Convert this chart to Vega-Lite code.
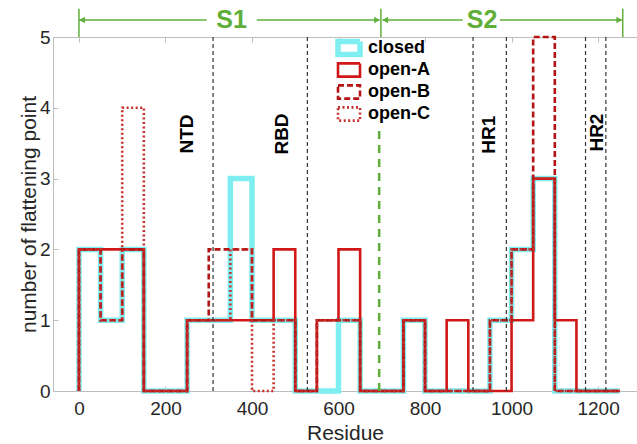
{
  "$schema": "https://vega.github.io/schema/vega-lite/v6.json",
  "width": 584,
  "height": 354,
  "autosize": {"type": "none"},
  "padding": {"left": 53, "top": 37, "right": 0, "bottom": 53},
  "background": "white",
  "config": {
    "view": {"stroke": null},
    "font": "Liberation Sans",
    "axis": {"grid": false, "domainColor": "#BDBDBD", "tickColor": "#BDBDBD", "labelColor": "#262626", "titleColor": "#262626", "labelFont": "Liberation Sans", "titleFont": "Liberation Sans", "labelFontSize": 19, "titleFontSize": 21, "titleFontWeight": "normal"}
  },
  "datasets": {
    "hist": [
      {"s":"closed","i":0,"r":0,"n":0},{"s":"closed","i":1,"r":0,"n":2},{"s":"closed","i":2,"r":50,"n":1},{"s":"closed","i":3,"r":100,"n":2},{"s":"closed","i":4,"r":150,"n":0},{"s":"closed","i":5,"r":200,"n":0},{"s":"closed","i":6,"r":250,"n":1},{"s":"closed","i":7,"r":300,"n":1},{"s":"closed","i":8,"r":350,"n":3},{"s":"closed","i":9,"r":400,"n":1},{"s":"closed","i":10,"r":450,"n":1},{"s":"closed","i":11,"r":500,"n":0},{"s":"closed","i":12,"r":550,"n":0},{"s":"closed","i":13,"r":600,"n":1},{"s":"closed","i":14,"r":650,"n":0},{"s":"closed","i":15,"r":700,"n":0},{"s":"closed","i":16,"r":750,"n":1},{"s":"closed","i":17,"r":800,"n":0},{"s":"closed","i":18,"r":850,"n":0},{"s":"closed","i":19,"r":900,"n":0},{"s":"closed","i":20,"r":950,"n":1},{"s":"closed","i":21,"r":1000,"n":2},{"s":"closed","i":22,"r":1050,"n":3},{"s":"closed","i":23,"r":1100,"n":0},{"s":"closed","i":24,"r":1150,"n":0},{"s":"closed","i":25,"r":1200,"n":0},{"s":"closed","i":26,"r":1250,"n":0},
      {"s":"open-A","i":0,"r":0,"n":0},{"s":"open-A","i":1,"r":0,"n":2},{"s":"open-A","i":2,"r":50,"n":2},{"s":"open-A","i":3,"r":100,"n":2},{"s":"open-A","i":4,"r":150,"n":0},{"s":"open-A","i":5,"r":200,"n":0},{"s":"open-A","i":6,"r":250,"n":1},{"s":"open-A","i":7,"r":300,"n":1},{"s":"open-A","i":8,"r":350,"n":1},{"s":"open-A","i":9,"r":400,"n":1},{"s":"open-A","i":10,"r":450,"n":2},{"s":"open-A","i":11,"r":500,"n":0},{"s":"open-A","i":12,"r":550,"n":1},{"s":"open-A","i":13,"r":600,"n":2},{"s":"open-A","i":14,"r":650,"n":0},{"s":"open-A","i":15,"r":700,"n":0},{"s":"open-A","i":16,"r":750,"n":1},{"s":"open-A","i":17,"r":800,"n":0},{"s":"open-A","i":18,"r":850,"n":1},{"s":"open-A","i":19,"r":900,"n":0},{"s":"open-A","i":20,"r":950,"n":0},{"s":"open-A","i":21,"r":1000,"n":1},{"s":"open-A","i":22,"r":1050,"n":3},{"s":"open-A","i":23,"r":1100,"n":1},{"s":"open-A","i":24,"r":1150,"n":0},{"s":"open-A","i":25,"r":1200,"n":0},{"s":"open-A","i":26,"r":1250,"n":0},
      {"s":"open-B","i":0,"r":0,"n":0},{"s":"open-B","i":1,"r":0,"n":2},{"s":"open-B","i":2,"r":50,"n":1},{"s":"open-B","i":3,"r":100,"n":2},{"s":"open-B","i":4,"r":150,"n":0},{"s":"open-B","i":5,"r":200,"n":0},{"s":"open-B","i":6,"r":250,"n":1},{"s":"open-B","i":7,"r":300,"n":2},{"s":"open-B","i":8,"r":350,"n":2},{"s":"open-B","i":9,"r":400,"n":1},{"s":"open-B","i":10,"r":450,"n":1},{"s":"open-B","i":11,"r":500,"n":0},{"s":"open-B","i":12,"r":550,"n":1},{"s":"open-B","i":13,"r":600,"n":1},{"s":"open-B","i":14,"r":650,"n":0},{"s":"open-B","i":15,"r":700,"n":0},{"s":"open-B","i":16,"r":750,"n":1},{"s":"open-B","i":17,"r":800,"n":0},{"s":"open-B","i":18,"r":850,"n":0},{"s":"open-B","i":19,"r":900,"n":0},{"s":"open-B","i":20,"r":950,"n":1},{"s":"open-B","i":21,"r":1000,"n":2},{"s":"open-B","i":22,"r":1050,"n":5},{"s":"open-B","i":23,"r":1100,"n":0},{"s":"open-B","i":24,"r":1150,"n":0},{"s":"open-B","i":25,"r":1200,"n":0},{"s":"open-B","i":26,"r":1250,"n":0},
      {"s":"open-C","i":0,"r":0,"n":0},{"s":"open-C","i":1,"r":0,"n":2},{"s":"open-C","i":2,"r":50,"n":1},{"s":"open-C","i":3,"r":100,"n":4},{"s":"open-C","i":4,"r":150,"n":0},{"s":"open-C","i":5,"r":200,"n":0},{"s":"open-C","i":6,"r":250,"n":1},{"s":"open-C","i":7,"r":300,"n":1},{"s":"open-C","i":8,"r":350,"n":2},{"s":"open-C","i":9,"r":400,"n":0},{"s":"open-C","i":10,"r":450,"n":1},{"s":"open-C","i":11,"r":500,"n":0},{"s":"open-C","i":12,"r":550,"n":1},{"s":"open-C","i":13,"r":600,"n":1},{"s":"open-C","i":14,"r":650,"n":0},{"s":"open-C","i":15,"r":700,"n":0},{"s":"open-C","i":16,"r":750,"n":1},{"s":"open-C","i":17,"r":800,"n":0},{"s":"open-C","i":18,"r":850,"n":0},{"s":"open-C","i":19,"r":900,"n":0},{"s":"open-C","i":20,"r":950,"n":1},{"s":"open-C","i":21,"r":1000,"n":2},{"s":"open-C","i":22,"r":1050,"n":3},{"s":"open-C","i":23,"r":1100,"n":0},{"s":"open-C","i":24,"r":1150,"n":0},{"s":"open-C","i":25,"r":1200,"n":0},{"s":"open-C","i":26,"r":1250,"n":0}
    ],
    "bounds": [{"x":310},{"x":528},{"x":911},{"x":988},{"x":1171},{"x":1218}],
    "split": [{"x":694,"lo":0,"hi":3.69}],
    "domains": [{"t":"NTD","x":250,"y":3.63},{"t":"RBD","x":470,"y":3.63},{"t":"HR1","x":947,"y":3.62},{"t":"HR2","x":1198,"y":3.65}],
    "segs": [{"a":0,"b":295,"y":5.24},{"a":411,"b":695,"y":5.24},{"a":702,"b":887,"y":5.24},{"a":973,"b":1255,"y":5.24}],
    "ends": [{"x":0,"lo":5.0,"hi":5.4},{"x":698,"lo":5.0,"hi":5.4},{"x":1257,"lo":5.0,"hi":5.4}],
    "heads": [{"x":7,"y":5.24,"d":"left"},{"x":689,"y":5.24,"d":"right"},{"x":708,"y":5.24,"d":"left"},{"x":1249,"y":5.24,"d":"right"}],
    "stext": [{"t":"S1","x":353,"y":5.24},{"t":"S2","x":932,"y":5.24}]
  },
  "layer": [
    {
      "data": {"name": "hist"},
      "mark": {"type": "line", "interpolate": "step-after", "strokeJoin": "miter", "strokeCap": "butt"},
      "encoding": {
        "x": {"field": "r", "type": "quantitative", "scale": {"domain": [-60, 1290], "nice": false, "zero": false}, "axis": {"values": [0,200,400,600,800,1000,1200], "format": "d", "title": "Residue", "tickSize": -5, "labelPadding": 13, "titlePadding": 4, "domain": true}},
        "y": {"field": "n", "type": "quantitative", "scale": {"domain": [0, 5], "nice": false}, "axis": {"values": [0,1,2,3,4,5], "format": "d", "title": "number of flattening point", "tickSize": -5, "labelPadding": 8, "titlePadding": 0}},
        "order": {"field": "i", "type": "quantitative"},
        "color": {"field": "s", "type": "nominal", "scale": {"domain": ["closed","open-A","open-B","open-C"], "range": ["#7FEEF0","#D01818","#B51515","#C4302B"]},
          "legend": {"orient": "none", "legendX": 282, "legendY": 0, "title": null, "symbolType": "M-1,-0.6H1V0.6H-1Z", "symbolSize": 484, "symbolFillColor": "transparent", "symbolStrokeWidth": 2.5, "labelFont": "Liberation Sans", "labelFontSize": 18, "labelFontWeight": "bold", "labelColor": "#000000", "labelOffset": 5, "rowPadding": 0, "padding": 0, "clipHeight": 22,
            "encode": {"symbols": {"update": {"strokeWidth": {"signal": "datum.value === 'closed' ? 5 : 2.5"}}}}}},
        "strokeDash": {"field": "s", "type": "nominal", "scale": {"domain": ["closed","open-A","open-B","open-C"], "range": [[1,0],[1,0],[6,3],[2,2.5]]},
          "legend": {"orient": "none", "legendX": 282, "legendY": 0, "title": null, "symbolType": "M-1,-0.6H1V0.6H-1Z", "symbolSize": 484, "symbolFillColor": "transparent", "symbolStrokeWidth": 2.5, "labelFont": "Liberation Sans", "labelFontSize": 18, "labelFontWeight": "bold", "labelColor": "#000000", "labelOffset": 5, "rowPadding": 0, "padding": 0, "clipHeight": 22,
            "encode": {"symbols": {"update": {"strokeWidth": {"signal": "datum.value === 'closed' ? 5 : 2.5"}}}}}},
        "strokeWidth": {"field": "s", "type": "ordinal", "scale": {"type": "ordinal", "domain": ["closed","open-A","open-B","open-C"], "range": [5.5, 2.6, 2.6, 2.6]}, "legend": null}
      }
    },
    {
      "data": {"name": "bounds"},
      "mark": {"type": "rule", "color": "#333333", "strokeWidth": 1.2, "strokeDash": [4, 3]},
      "encoding": {
        "x": {"field": "x", "type": "quantitative", "scale": {"domain": [-60, 1290], "nice": false, "zero": false}, "axis": {"orient": "top", "values": [0,200,400,600,800,1000,1200], "labels": false, "title": null, "tickSize": -5, "domain": true}}
      }
    },
    {
      "data": {"name": "split"},
      "mark": {"type": "rule", "color": "#5FAF3A", "strokeWidth": 2.5, "strokeDash": [8, 6]},
      "encoding": {
        "x": {"field": "x", "type": "quantitative", "scale": {"domain": [-60, 1290], "nice": false, "zero": false}, "axis": null},
        "y": {"field": "lo", "type": "quantitative", "scale": {"domain": [0, 5], "nice": false}},
        "y2": {"field": "hi"}
      }
    },
    {
      "data": {"name": "domains"},
      "mark": {"type": "text", "angle": 270, "font": "Liberation Sans", "fontSize": 19, "fontWeight": "bold", "color": "#000000", "align": "center", "baseline": "middle"},
      "encoding": {
        "x": {"field": "x", "type": "quantitative", "scale": {"domain": [-60, 1290], "nice": false, "zero": false}, "axis": null},
        "y": {"field": "y", "type": "quantitative", "scale": {"domain": [0, 5], "nice": false}},
        "text": {"field": "t"}
      }
    },
    {
      "data": {"name": "segs"},
      "mark": {"type": "rule", "color": "#5FAF3A", "strokeWidth": 1.5},
      "encoding": {
        "x": {"field": "a", "type": "quantitative", "scale": {"domain": [-60, 1290], "nice": false, "zero": false}, "axis": null},
        "x2": {"field": "b"},
        "y": {"field": "y", "type": "quantitative", "scale": {"domain": [0, 5], "nice": false}}
      }
    },
    {
      "data": {"name": "ends"},
      "mark": {"type": "rule", "color": "#5FAF3A", "strokeWidth": 1.5},
      "encoding": {
        "x": {"field": "x", "type": "quantitative", "scale": {"domain": [-60, 1290], "nice": false, "zero": false}, "axis": null},
        "y": {"field": "lo", "type": "quantitative", "scale": {"domain": [0, 5], "nice": false}},
        "y2": {"field": "hi"}
      }
    },
    {
      "data": {"name": "heads"},
      "mark": {"type": "point", "filled": true, "color": "#5FAF3A", "size": 45, "opacity": 1},
      "encoding": {
        "x": {"field": "x", "type": "quantitative", "scale": {"domain": [-60, 1290], "nice": false, "zero": false}, "axis": null},
        "y": {"field": "y", "type": "quantitative", "scale": {"domain": [0, 5], "nice": false}},
        "shape": {"field": "d", "type": "nominal", "scale": {"domain": ["left", "right"], "range": ["triangle-left", "triangle-right"]}, "legend": null}
      }
    },
    {
      "data": {"name": "stext"},
      "mark": {"type": "text", "font": "Liberation Sans", "fontSize": 25, "fontWeight": "bold", "color": "#5FAF3A", "align": "center", "baseline": "middle"},
      "encoding": {
        "x": {"field": "x", "type": "quantitative", "scale": {"domain": [-60, 1290], "nice": false, "zero": false}, "axis": null},
        "y": {"field": "y", "type": "quantitative", "scale": {"domain": [0, 5], "nice": false}},
        "text": {"field": "t"}
      }
    }
  ],
  "resolve": {"axis": {"x": "independent"}}
}
